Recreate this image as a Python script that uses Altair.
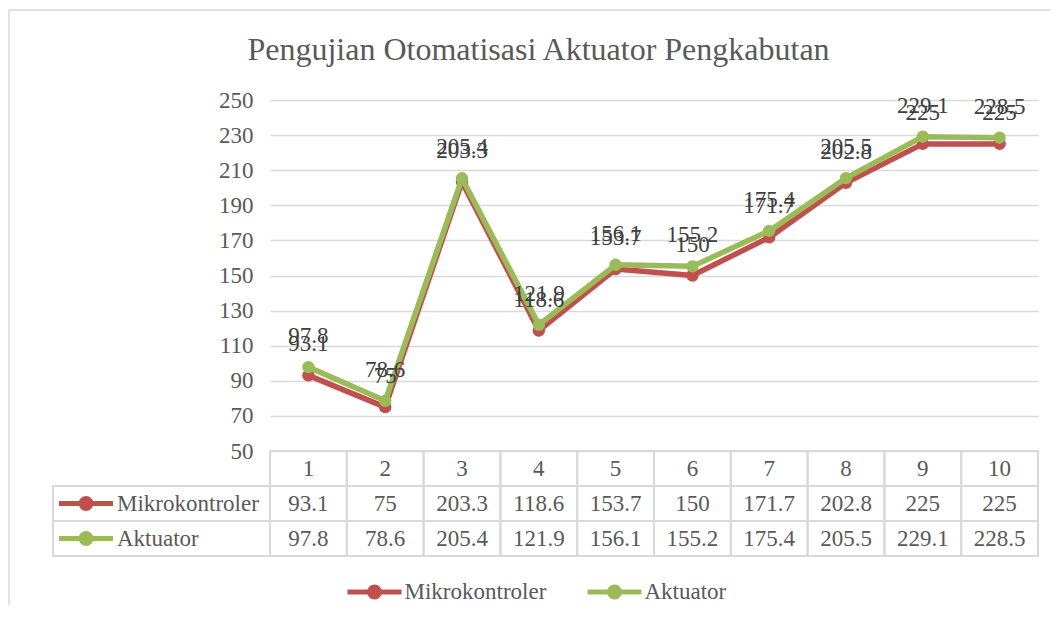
import altair as alt
import pandas as pd

# ---------------- data ----------------
percobaan = ["1", "2", "3", "4", "5", "6", "7", "8", "9", "10"]
mikrokontroler = [93.1, 75, 203.3, 118.6, 153.7, 150, 171.7, 202.8, 225, 225]
aktuator = [97.8, 78.6, 205.4, 121.9, 156.1, 155.2, 175.4, 205.5, 229.1, 228.5]
series = ["Mikrokontroler", "Aktuator"]
colors = ["#C0504D", "#9BBB59"]
y_ticks = [50, 70, 90, 110, 130, 150, 170, 190, 210, 230, 250]
rows = ["No", "Mikrokontroler", "Aktuator"]
title_text = "Pengujian Otomatisasi Aktuator Pengkabutan"


def fmt(v):
    return f"{v:g}"


values = {"Mikrokontroler": mikrokontroler, "Aktuator": aktuator}

long = pd.DataFrame(
    [
        {"Percobaan": p, "Seri": s, "Nilai": values[s][i], "Label": fmt(values[s][i])}
        for s in series
        for i, p in enumerate(percobaan)
    ]
)

table_rows = []
for i, p in enumerate(percobaan):
    table_rows.append({"Percobaan": p, "Baris": "No", "Teks": p})
    for s in series:
        table_rows.append({"Percobaan": p, "Baris": s, "Teks": fmt(values[s][i])})
table = pd.DataFrame(table_rows)

series_df = pd.DataFrame({"Seri": series, "Baris": series})
one = pd.DataFrame({"k": [0]})

# ---------------- style ----------------
FONT = "Liberation Serif"
GRAY = "#595959"
DARK = "#404040"
GRID = "#D9D9D9"
FS = 23
SWATCH = (
    "M-1,0L1,0"
    "M0.185,0A0.185,0.185,0,1,1,-0.185,0A0.185,0.185,0,1,1,0.185,0"
    "M0.074,0A0.074,0.074,0,1,1,-0.074,0A0.074,0.074,0,1,1,0.074,0"
)

color_enc = alt.Color("Seri:N", scale=alt.Scale(domain=series, range=colors), legend=None)
x_enc = alt.X(
    "Percobaan:N",
    sort=percobaan,
    scale=alt.Scale(type="band", domain=percobaan, paddingInner=0, paddingOuter=0),
    axis=None,
)
y_val = alt.Y(
    "Nilai:Q",
    scale=alt.Scale(domain=[50, 250], nice=False, zero=False),
    axis=alt.Axis(
        values=y_ticks,
        title=None,
        grid=True,
        gridColor=GRID,
        gridWidth=1.5,
        domain=False,
        ticks=False,
        labelFont=FONT,
        labelFontSize=FS,
        labelColor=GRAY,
        labelPadding=17,
    ),
)

# ---------------- line chart ----------------
plot_layers = []
for s in series:
    base = alt.Chart(long).transform_filter(alt.datum.Seri == s)
    plot_layers.append(
        base.mark_line(strokeWidth=5.5, strokeCap="round", strokeJoin="round").encode(
            x=x_enc, y=y_val, color=color_enc
        )
    )
    plot_layers.append(
        base.mark_circle(size=154, opacity=1).encode(x=x_enc, y=y_val, color=color_enc)
    )
for s in series:
    base = alt.Chart(long).transform_filter(alt.datum.Seri == s)
    plot_layers.append(
        base.mark_text(
            font=FONT, fontSize=FS, color=DARK, baseline="alphabetic", dy=-24
        ).encode(x=x_enc, y=y_val, text="Label:N")
    )
A = alt.layer(*plot_layers)

# ---------------- data table ----------------
y_row = alt.Y(
    "Baris:N",
    sort=rows,
    scale=alt.Scale(type="band", domain=rows, range=[351, 456], paddingInner=0, paddingOuter=0),
    axis=None,
)
cells = alt.Chart(table).mark_rect(fillOpacity=0, stroke=GRID, strokeWidth=2).encode(
    x=x_enc, y=y_row
)
cell_text = alt.Chart(table).mark_text(
    font=FONT, fontSize=FS, color=GRAY, baseline="middle"
).encode(x=x_enc, y=y_row, text="Teks:N")
label_cells = alt.Chart(series_df).mark_rect(fillOpacity=0, stroke=GRID, strokeWidth=2).encode(
    x=alt.value(-217), x2=alt.value(0), y=y_row
)
label_text = alt.Chart(series_df).mark_text(
    font=FONT, fontSize=FS, color=GRAY, baseline="middle", align="left"
).encode(x=alt.value(-153), y=y_row, text="Baris:N")
swatches = alt.Chart(series_df).mark_point(
    shape=SWATCH, size=2916, filled=False, strokeWidth=5, opacity=1
).encode(x=alt.value(-184), y=y_row, color=color_enc)
B = alt.layer(cells, label_cells, cell_text, label_text, swatches)

AB = alt.layer(A, B).resolve_scale(y="independent")

# ---------------- bottom legend ----------------
x_leg = alt.X(
    "Seri:N",
    sort=series,
    scale=alt.Scale(type="point", domain=series, range=[104.5, 344.5], padding=0),
    axis=None,
)
leg_sw = alt.Chart(series_df).mark_point(
    shape=SWATCH, size=2916, filled=False, strokeWidth=5, opacity=1
).encode(x=x_leg, y=alt.value(492), color=color_enc)
leg_tx = alt.Chart(series_df).mark_text(
    font=FONT, fontSize=FS, color=GRAY, baseline="middle", align="left", dx=30
).encode(x=x_leg, y=alt.value(492), text="Seri:N")
L = alt.layer(leg_sw, leg_tx)

# ---------------- chart frame ----------------
top_line = alt.Chart(one).mark_rule(color=GRID, strokeWidth=1.5).encode(
    x=alt.value(-261), x2=alt.value(780), y=alt.value(-90)
)
left_line = alt.Chart(one).mark_rule(color=GRID, strokeWidth=1.5).encode(
    x=alt.value(-261), y=alt.value(-90), y2=alt.value(505)
)

chart = (
    alt.layer(top_line, left_line, AB, L)
    .resolve_scale(x="independent", y="independent")
    .properties(
        width=768,
        height=351,
        padding={"left": 0, "top": 1, "right": 0, "bottom": 0},
        title=alt.TitleParams(
            text=title_text,
            font=FONT,
            fontSize=32,
            fontWeight="normal",
            color=GRAY,
            anchor="middle",
            frame="group",
            baseline="alphabetic",
            dx=-115.5,
            offset=-83,
        ),
    )
    .configure_view(stroke=None)
)

chart.save("out.html", embed_options={"renderer": "svg", "actions": False})
